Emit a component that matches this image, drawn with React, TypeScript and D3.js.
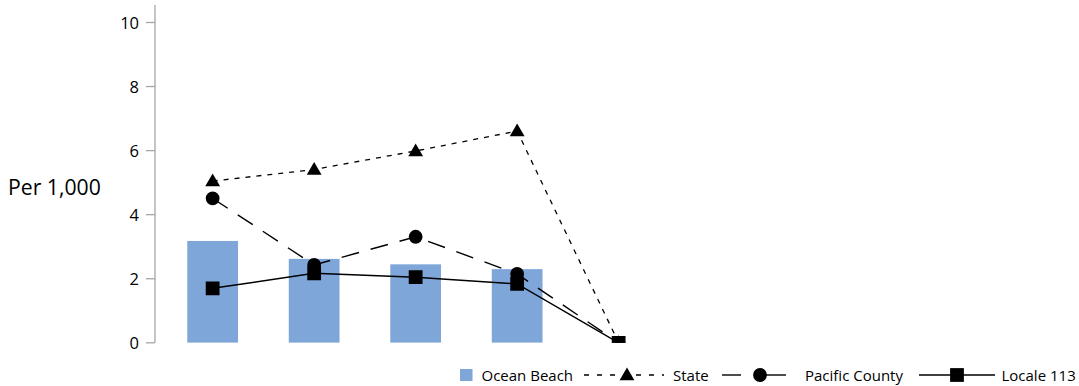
import React from "react";
import * as d3 from "d3";

const categories = ["c1", "c2", "c3", "c4", "c5"];
const oceanBeach = [3.18, 2.62, 2.45, 2.3, 0];
const stateVals = [5.05, 5.41, 5.99, 6.61, 0];
const pacificCounty = [4.51, 2.43, 3.31, 2.15, 0];
const locale113 = [1.7, 2.17, 2.05, 1.84, 0];
const yTicks = [0, 2, 4, 6, 8, 10];
const yLabel = "Per 1,000";
const legendLabels = ["Ocean Beach", "State", "Pacific County", "Locale 113"];

const W = 1079;
const H = 386;
const FONT = "'Open Sans', 'DejaVu Sans', sans-serif";
const BAR = "#7ea6d8";

export default function App() {
  const x = d3.scaleBand<string>().domain(categories).range([161.9, 669.4]).padding(0);
  const y = d3.scaleLinear().domain([0, 10]).range([342.8, 22.5]);
  const bw = x.bandwidth();
  const cx = (c: string) => (x(c) as number) + bw / 2;
  const barW = bw * 0.5;

  const line = d3
    .line<number>()
    .x((_, i) => cx(categories[i]))
    .y((d) => y(d));

  const tri = d3.symbol().type(d3.symbolTriangle).size(95)();
  const circ = d3.symbol().type(d3.symbolCircle).size(150)();
  const sq = d3.symbol().type(d3.symbolSquare).size(190)();

  const axisX = 155;

  return (
    <svg width={W} height={H} style={{ position: "absolute", left: 0, top: 0, background: "#fff" }}>
      <defs>
        <clipPath id="plot">
          <rect x={axisX} y={0} width={W - axisX} height={y(0)} />
        </clipPath>
      </defs>
      {/* y axis */}
      <line x1={axisX} x2={axisX} y1={5} y2={y(0)} stroke="#a6a6a6" strokeWidth={1.3} />
      {yTicks.map((t) => (
        <g key={t}>
          <line x1={146} x2={axisX} y1={y(t)} y2={y(t)} stroke="#a6a6a6" strokeWidth={1.3} />
          <text
            x={139}
            y={y(t)}
            textAnchor="end"
            dominantBaseline="central"
            fontFamily={FONT}
            fontSize={16.5}
            fill="#000"
          >
            {t}
          </text>
        </g>
      ))}
      <text x={8} y={186} dominantBaseline="central" fontFamily={FONT} fontSize={21.2} fill="#000">
        {yLabel}
      </text>

      <g clipPath="url(#plot)">
        {categories.map((c, i) =>
          oceanBeach[i] > 0 ? (
            <rect
              key={c}
              x={cx(c) - barW / 2}
              y={y(oceanBeach[i])}
              width={barW}
              height={y(0) - y(oceanBeach[i])}
              fill={BAR}
            />
          ) : null
        )}
        <path d={line(stateVals) || ""} fill="none" stroke="#000" strokeWidth={1.3} strokeDasharray="5,6" />
        <path d={line(pacificCounty) || ""} fill="none" stroke="#000" strokeWidth={1.4} strokeDasharray="18,12" />
        <path d={line(locale113) || ""} fill="none" stroke="#000" strokeWidth={1.5} />
        {categories.map((c, i) => (
          <path key={"t" + c} d={tri || ""} transform={`translate(${cx(c)},${y(stateVals[i]) + 1})`} fill="#000" />
        ))}
        {categories.map((c, i) => (
          <path key={"c" + c} d={circ || ""} transform={`translate(${cx(c)},${y(pacificCounty[i])})`} fill="#000" />
        ))}
        {categories.map((c, i) => (
          <path key={"s" + c} d={sq || ""} transform={`translate(${cx(c)},${y(locale113[i])})`} fill="#000" />
        ))}
      </g>

      {/* legend */}
      <g fontFamily={FONT} fontSize={15} fill="#000">
        <rect x={460} y={369} width={12.5} height={12} fill={BAR} />
        <text x={481.5} y={375} dominantBaseline="central">{legendLabels[0]}</text>

        <line x1={584} x2={664} y1={375} y2={375} stroke="#000" strokeWidth={1.3} strokeDasharray="5,8" />
        <path d={tri || ""} transform={`translate(627,376)`} fill="#000" />
        <text x={673} y={375} dominantBaseline="central">{legendLabels[1]}</text>

        <line x1={722} x2={741} y1={375} y2={375} stroke="#000" strokeWidth={1.4} />
        <line x1={760} x2={786} y1={375} y2={375} stroke="#000" strokeWidth={1.4} />
        <path d={circ || ""} transform={`translate(760,375)`} fill="#000" />
        <text x={805} y={375} dominantBaseline="central">{legendLabels[2]}</text>

        <line x1={919} x2={995} y1={375} y2={375} stroke="#000" strokeWidth={1.4} />
        <path d={sq || ""} transform={`translate(957,375)`} fill="#000" />
        <text x={1001.5} y={375} dominantBaseline="central">{legendLabels[3]}</text>
      </g>
    </svg>
  );
}
